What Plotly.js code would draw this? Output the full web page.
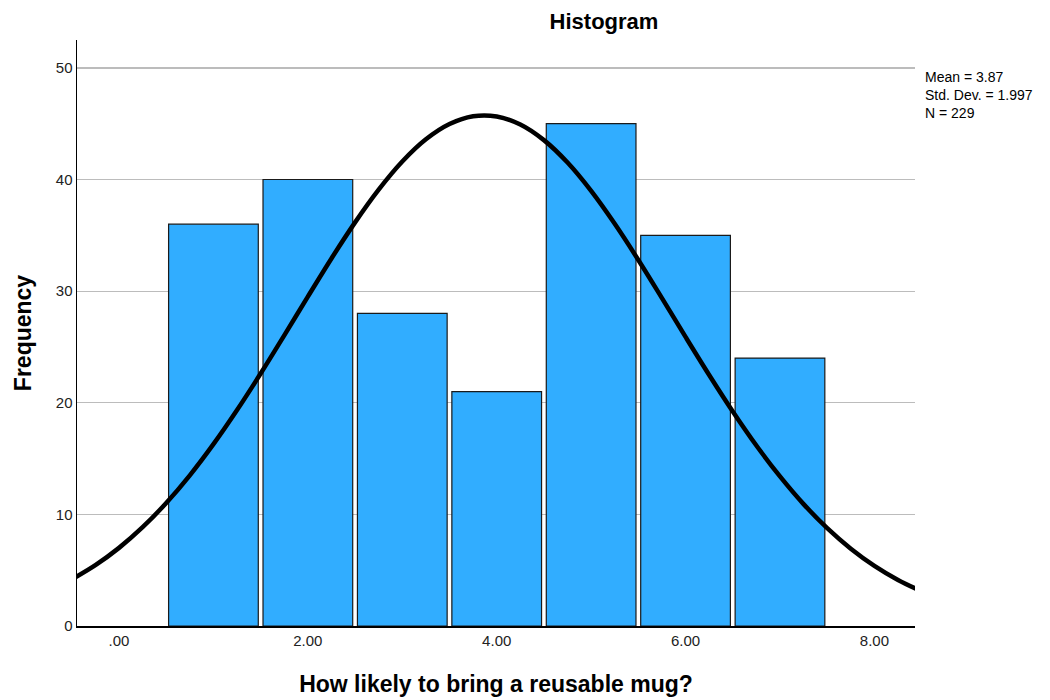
<!DOCTYPE html>
<html>
<head>
<meta charset="utf-8">
<script src="https://cdn.plot.ly/plotly-3.0.1.min.js"></script>
<style>html,body{margin:0;padding:0;background:#fff;}#chart{width:1050px;height:700px;}</style>
</head>
<body>
<div id="chart"></div>
<script>
// Histogram bins (bin centres) and frequencies
const binCenters = [1, 2, 3, 4, 5, 6, 7];
const frequencies = [36, 40, 28, 21, 45, 35, 24];

// Normal curve
const curveX = [-0.5, -0.25, 0, 0.25, 0.5, 0.75, 1, 1.25, 1.5, 1.75, 2, 2.25, 2.5, 2.75, 3, 3.25, 3.5, 3.75, 4, 4.25, 4.5, 4.75, 5, 5.25, 5.5, 5.75, 6, 6.25, 6.5, 6.75, 7, 7.25, 7.5, 7.75, 8, 8.25, 8.5];
const curveY = [4.18, 5.45, 7.00, 8.85, 11.02, 13.50, 16.29, 19.35, 22.62, 26.04, 29.51, 32.93, 36.16, 39.09, 41.61, 43.60, 44.97, 45.67, 45.65, 44.93, 43.53, 41.52, 38.98, 36.03, 32.79, 29.37, 25.90, 22.49, 19.22, 16.17, 13.40, 10.92, 8.77, 6.93, 5.39, 4.13, 3.11];

const xTickVals = [0, 2, 4, 6, 8];
const xTickText = ['.00', '2.00', '4.00', '6.00', '8.00'];
const yTickVals = [0, 10, 20, 30, 40, 50];
const statsLines = ['Mean = 3.87', 'Std. Dev. = 1.997', 'N = 229'];

const FONT = 'Liberation Sans, Arial, sans-serif';

const traces = [
  {
    type: 'bar',
    x: binCenters,
    y: frequencies,
    width: 0.95,
    marker: {color: '#31adff', line: {color: '#1a1a1a', width: 1.2}},
    hoverinfo: 'x+y'
  },
  {
    type: 'scatter',
    mode: 'lines',
    x: curveX,
    y: curveY,
    line: {color: '#000000', width: 4.5, shape: 'spline'},
    hoverinfo: 'skip'
  }
];

const layout = {
  width: 1050,
  height: 700,
  margin: {l: 77, r: 135, t: 40, b: 74},
  paper_bgcolor: '#ffffff',
  plot_bgcolor: '#ffffff',
  showlegend: false,
  font: {family: FONT, color: '#000'},
  title: {
    text: '<b>Histogram</b>',
    font: {family: FONT, size: 22, color: '#000'},
    x: 604 / 1050, xanchor: 'center', xref: 'container',
    y: 1 - 21 / 700, yanchor: 'middle', yref: 'container'
  },
  xaxis: {
    range: [-0.445, 8.43],
    tickvals: xTickVals,
    ticktext: xTickText,
    ticks: '',
    showgrid: false,
    zeroline: false,
    showline: true,
    linecolor: '#000',
    linewidth: 1.5,
    tickfont: {family: FONT, size: 15, color: '#222'},
    title: {text: '<b>How likely to bring a reusable mug?</b>', font: {family: FONT, size: 23, color: '#000'}, standoff: 28}
  },
  yaxis: {
    range: [0, 52.5],
    tickvals: yTickVals,
    ticks: '',
    showgrid: true,
    gridcolor: '#bcbcbc',
    gridwidth: 1.2,
    zeroline: false,
    showline: true,
    linecolor: '#000',
    linewidth: 1.5,
    tickfont: {family: FONT, size: 15, color: '#222'},
    title: {text: '<b>Frequency</b>', font: {family: FONT, size: 23, color: '#000'}, standoff: 18}
  },
  annotations: [{
    xref: 'paper', yref: 'paper',
    x: 1.01, y: (627 - 67) / 587,
    xanchor: 'left', yanchor: 'top',
    align: 'left',
    showarrow: false,
    text: statsLines.join('<br>'),
    font: {family: FONT, size: 14, color: '#000'}
  }],
  bargap: 0
};

Plotly.newPlot('chart', traces, layout, {displayModeBar: false, staticPlot: true});
</script>
</body>
</html>
